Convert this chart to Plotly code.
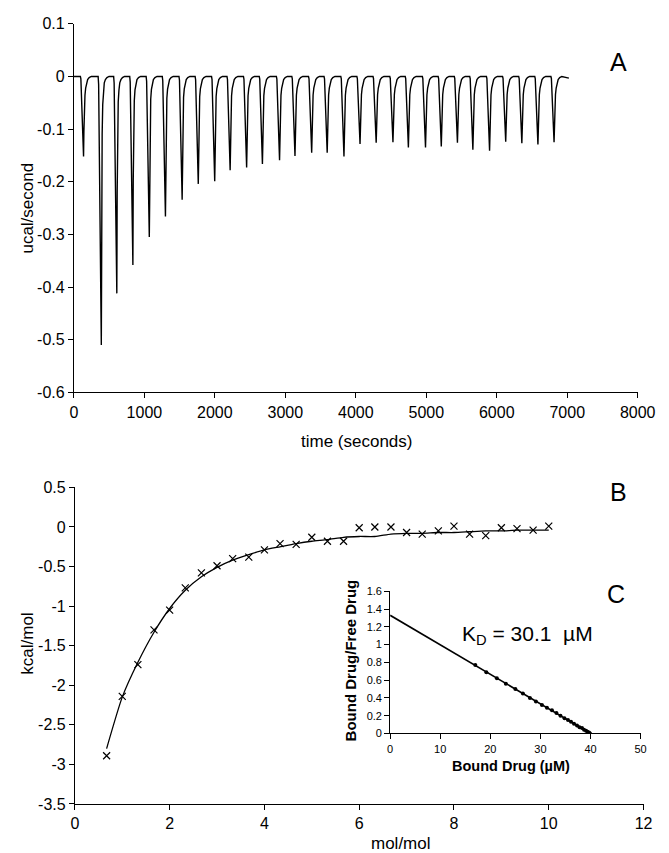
import plotly.graph_objects as go

W, H = 669, 853
FONT = "Liberation Sans, Arial, sans-serif"

# ---------------- Panel A: raw ITC trace ----------------
inj_times = [137, 389, 609, 837, 1070, 1299, 1536, 1765, 1998, 2217,
             2451, 2675, 2918, 3137, 3374, 3594, 3832, 4060, 4289, 4527,
             4746, 4989, 5213, 5442, 5661, 5898, 6127, 6356, 6584, 6813]
inj_depths = [-0.152, -0.510, -0.412, -0.358, -0.305, -0.266, -0.234, -0.204, -0.199, -0.178,
              -0.173, -0.166, -0.159, -0.151, -0.145, -0.145, -0.152, -0.128, -0.126, -0.125,
              -0.135, -0.135, -0.133, -0.126, -0.139, -0.141, -0.124, -0.127, -0.129, -0.125]
# peak shape: offset from peak (s), fraction of peak depth,
# plus the short rounded recovery shoulder (ucal/s) seen after every peak
shape_offsets = [-45, -38, 0, 5, 12, 20, 30, 42, 58, 80, 110]
shape_fracs = [0.0, 0.03, 1.0, 0.45, 0.15, 0.05, 0.015, 0.0, 0.0, 0.0, 0.0]
shape_shoulder = [0.0, 0.0, 0.0, -0.035, -0.033, -0.028, -0.02, -0.012, -0.006, -0.002, 0.0]
trace_start, trace_end = 0, 7023

tA, yA = [trace_start], [0.0]
for t0, d in zip(inj_times, inj_depths):
    for off, fr, sh in zip(shape_offsets, shape_fracs, shape_shoulder):
        tA.append(t0 + off)
        yA.append(d * fr + sh)
tA.append(trace_end)
yA.append(-0.003)

A_xticks = [0, 1000, 2000, 3000, 4000, 5000, 6000, 7000, 8000]
A_xticktext = ["0", "1000", "2000", "3000", "4000", "5000", "6000", "7000", "8000"]
A_yticks = [0.1, 0, -0.1, -0.2, -0.3, -0.4, -0.5, -0.6]
A_yticktext = ["0.1", "0", "-0.1", "-0.2", "-0.3", "-0.4", "-0.5", "-0.6"]

# ---------------- Panel B: binding isotherm ----------------
molratio = [0.67, 1.0, 1.33, 1.67, 2.0, 2.33, 2.67, 3.0, 3.33, 3.67,
            4.0, 4.33, 4.67, 5.0, 5.33, 5.67, 6.0, 6.33, 6.67, 7.0,
            7.33, 7.67, 8.0, 8.33, 8.67, 9.0, 9.33, 9.67, 10.0]
heat_obs = [-2.89, -2.14, -1.74, -1.30, -1.05, -0.77, -0.58, -0.49, -0.40, -0.38,
            -0.29, -0.21, -0.22, -0.13, -0.18, -0.18, -0.01, 0.0, 0.0, -0.07,
            -0.09, -0.05, 0.01, -0.09, -0.11, -0.01, -0.02, -0.04, 0.01]
heat_fit = [-2.80, -2.15, -1.71, -1.33, -1.03, -0.80, -0.63, -0.51, -0.42, -0.35,
            -0.29, -0.25, -0.21, -0.18, -0.16, -0.13, -0.12, -0.12, -0.09, -0.08,
            -0.08, -0.07, -0.07, -0.06, -0.05, -0.05, -0.04, -0.04, -0.04]
B_xticks = [0, 2, 4, 6, 8, 10, 12]
B_xticktext = ["0", "2", "4", "6", "8", "10", "12"]
B_yticks = [0.5, 0, -0.5, -1, -1.5, -2, -2.5, -3, -3.5]
B_yticktext = ["0.5", "0", "-0.5", "-1", "-1.5", "-2", "-2.5", "-3", "-3.5"]

# ---------------- Panel C: Scatchard inset ----------------
bound = [17.0, 19.2, 21.3, 23.1, 25.0, 26.5, 27.9, 29.1, 30.3, 31.3,
         32.3, 33.2, 34.0, 34.8, 35.5, 36.1, 36.7, 37.3, 37.8, 38.3,
         38.7, 39.1, 39.4, 39.7, 39.9]
bound_free = [0.77, 0.69, 0.62, 0.56, 0.50, 0.45, 0.40, 0.36, 0.32, 0.29,
              0.26, 0.23, 0.20, 0.17, 0.15, 0.13, 0.11, 0.09, 0.07, 0.06,
              0.04, 0.03, 0.02, 0.01, 0.00]
fit_bound = [0, 40]
fit_ratio = [1.33, 0.0]
C_xticks = [0, 10, 20, 30, 40, 50]
C_xticktext = ["0", "10", "20", "30", "40", "50"]
C_yticks = [0, 0.2, 0.4, 0.6, 0.8, 1.0, 1.2, 1.4, 1.6]
C_yticktext = ["0", "0.2", "0.4", "0.6", "0.8", "1", "1.2", "1.4", "1.6"]


def px_x(p):
    return p / W


def px_y(p):
    return 1 - p / H


fig = go.Figure()
fig.add_trace(go.Scatter(x=tA, y=yA, mode="lines", line=dict(color="black", width=1.4),
                         xaxis="x", yaxis="y", showlegend=False, hoverinfo="skip"))
fig.add_trace(go.Scatter(x=molratio, y=heat_fit, mode="lines",
                         line=dict(color="black", width=1.3, shape="spline", smoothing=0.6),
                         xaxis="x2", yaxis="y2", showlegend=False))
fig.add_trace(go.Scatter(x=molratio, y=heat_obs, mode="markers",
                         marker=dict(symbol="x-thin", size=7, line=dict(color="black", width=1.2)),
                         xaxis="x2", yaxis="y2", showlegend=False))
fig.add_trace(go.Scatter(x=fit_bound, y=fit_ratio, mode="lines", line=dict(color="black", width=1.6),
                         xaxis="x3", yaxis="y3", showlegend=False))
fig.add_trace(go.Scatter(x=bound, y=bound_free, mode="markers",
                         marker=dict(symbol="circle", size=4, color="black"),
                         xaxis="x3", yaxis="y3", showlegend=False))

ax_common = dict(showline=True, linecolor="black", linewidth=1, ticks="outside", ticklen=5,
                 tickwidth=1, tickcolor="black", showgrid=False, zeroline=False,
                 tickmode="array", fixedrange=True)
tickfont_main = dict(family=FONT, size=16, color="black")
tickfont_inset = dict(family=FONT, size=11, color="black")

fig.update_layout(
    width=W, height=H,
    margin=dict(l=0, r=0, t=0, b=0),
    paper_bgcolor="white", plot_bgcolor="white",
    showlegend=False,
    xaxis=dict(domain=[px_x(64), px_x(647)], range=[0, 8000], anchor="y",
               tickvals=A_xticks, ticktext=A_xticktext, tickfont=tickfont_main, **ax_common),
    yaxis=dict(domain=[px_y(384), px_y(8)], range=[-0.6, 0.1], anchor="x",
               tickvals=A_yticks, ticktext=A_yticktext, tickfont=tickfont_main, **ax_common),
    xaxis2=dict(domain=[px_x(65), px_x(653)], range=[0, 12], anchor="y2",
                tickvals=B_xticks, ticktext=B_xticktext, tickfont=tickfont_main, **ax_common),
    yaxis2=dict(domain=[px_y(804), px_y(481)], range=[-3.5, 0.5], anchor="x2",
                tickvals=B_yticks, ticktext=B_yticktext, tickfont=tickfont_main, **ax_common),
    xaxis3=dict(domain=[px_x(391), px_x(650)], range=[0, 50], anchor="y3",
                tickvals=C_xticks, ticktext=C_xticktext, tickfont=tickfont_inset, **ax_common),
    yaxis3=dict(domain=[px_y(732), px_y(587)], range=[0, 1.6], anchor="x3",
                tickvals=C_yticks, ticktext=C_yticktext, tickfont=tickfont_inset, **ax_common),
)


def ann(text, x, y, size, angle=0, bold=False):
    fig.add_annotation(text=("<b>%s</b>" % text) if bold else text,
                       x=px_x(x), y=px_y(y), xref="paper", yref="paper",
                       showarrow=False, textangle=angle, xanchor="center", yanchor="middle",
                       font=dict(family=FONT, size=size, color="black"))


ann("ucal/second", 16, 196, 17, angle=-90)
ann("time (seconds)", 356, 434, 17)
ann("kcal/mol", 16, 640, 17, angle=-90)
ann("mol/mol", 402, 844, 17)
ann("A", 627, 47, 25)
ann("B", 627, 486, 25)
ann("C", 625, 590, 25)
ann("K<sub>D</sub> = 30.1  \u00b5M", 533, 632, 21)
ann("Bound Drug (\u00b5M)", 516, 765, 14.5, bold=True)
ann("Bound Drug/Free Drug", 350, 657, 15, angle=-90, bold=True)

fig.write_html("out.html")
